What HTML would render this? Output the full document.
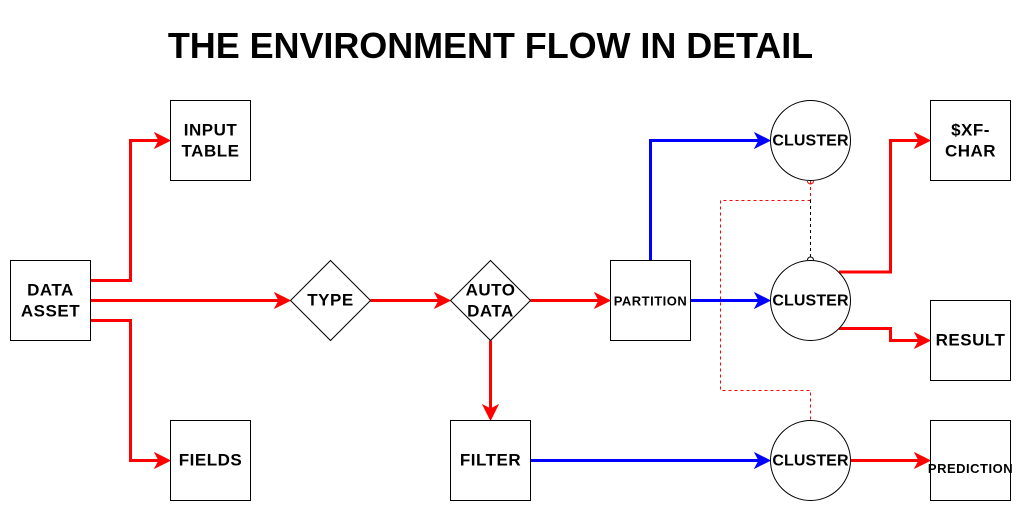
<!DOCTYPE html>
<html><head><meta charset="utf-8"><style>
html,body{margin:0;padding:0;background:#fff;width:1024px;height:511px;overflow:hidden}
svg{display:block}
text{font-family:"Liberation Sans",sans-serif;font-weight:bold;font-size:17px;text-anchor:middle;fill:#000;letter-spacing:.5px}
text.c{font-size:16px;letter-spacing:.1px}
text.s{font-size:13px;letter-spacing:.5px}
.n{fill:#fff;stroke:#000;stroke-width:1}
.r{fill:none;stroke:#f00;stroke-width:3}
.b{fill:none;stroke:#00f;stroke-width:3}
.rh{fill:#f00;stroke:#f00;stroke-width:1;stroke-miterlimit:10}
.bh{fill:#00f;stroke:#00f;stroke-width:1;stroke-miterlimit:10}
</style></head><body>
<svg width="1024" height="511" viewBox="0 0 1024 511" xmlns="http://www.w3.org/2000/svg">
<text x="490.5" y="58" style="font-size:36px;letter-spacing:-.07px">THE ENVIRONMENT FLOW IN DETAIL</text>

<!-- dashed -->
<path d="M810.5 200.5H720.5V390.5H810.5V420" fill="none" stroke="#f00" stroke-dasharray="3 3"/>
<path d="M810.5 181V200" fill="none" stroke="#f00" stroke-dasharray="3 3"/>
<path d="M810.5 200V257" fill="none" stroke="#000" stroke-dasharray="3 3"/>
<path d="M807.5 181a3 3 0 0 0 6 0" fill="none" stroke="#f00"/>
<path d="M807.5 260a3 3 0 0 1 6 0" fill="none" stroke="#000"/>

<!-- red edges -->
<path class="r" d="M90.5 280.5H130.5V140.5H160"/>
<path class="rh" d="M170 140.5L155 148L159 140.5L155 133Z"/>
<path class="r" d="M90.5 300.5H280"/>
<path class="rh" d="M290 300.5L275 308L279 300.5L275 293Z"/>
<path class="r" d="M90.5 320.5H130.5V460.5H160"/>
<path class="rh" d="M170 460.5L155 468L159 460.5L155 453Z"/>
<path class="r" d="M370.5 300.5H440"/>
<path class="rh" d="M450 300.5L435 308L439 300.5L435 293Z"/>
<path class="r" d="M530.5 300.5H600"/>
<path class="rh" d="M610 300.5L595 308L599 300.5L595 293Z"/>
<path class="r" d="M490.5 340.5V410"/>
<path class="rh" d="M490.5 420L483 405L490.5 409L498 405Z"/>
<path class="r" d="M839 272H890.5V140.5H920"/>
<path class="rh" d="M930 140.5L915 148L919 140.5L915 133Z"/>
<path class="r" d="M839 328.5H890.5V340.5H920"/>
<path class="rh" d="M930 340.5L915 348L919 340.5L915 333Z"/>
<path class="r" d="M850.5 460.5H920"/>
<path class="rh" d="M930 460.5L915 468L919 460.5L915 453Z"/>

<!-- blue edges -->
<path class="b" d="M650.5 260.5V140.5H760"/>
<path class="bh" d="M770 140.5L755 148L759 140.5L755 133Z"/>
<path class="b" d="M690.5 300.5H760"/>
<path class="bh" d="M770 300.5L755 308L759 300.5L755 293Z"/>
<path class="b" d="M530.5 460.5H760"/>
<path class="bh" d="M770 460.5L755 468L759 460.5L755 453Z"/>

<!-- nodes -->
<rect class="n" x="10.5" y="260.5" width="80" height="80"/>
<rect class="n" x="170.5" y="100.5" width="80" height="80"/>
<rect class="n" x="170.5" y="420.5" width="80" height="80"/>
<path class="n" d="M330.5 260.5L370.5 300.5L330.5 340.5L290.5 300.5Z"/>
<path class="n" d="M490.5 260.5L530.5 300.5L490.5 340.5L450.5 300.5Z"/>
<rect class="n" x="450.5" y="420.5" width="80" height="80"/>
<rect class="n" x="610.5" y="260.5" width="80" height="80"/>
<circle class="n" cx="810.5" cy="140.5" r="40"/>
<circle class="n" cx="810.5" cy="300.5" r="40"/>
<circle class="n" cx="810.5" cy="460.5" r="40"/>
<rect class="n" x="930.5" y="100.5" width="80" height="80"/>
<rect class="n" x="930.5" y="300.5" width="80" height="80"/>
<rect class="n" x="930.5" y="420.5" width="80" height="80"/>

<!-- labels -->
<text x="50.5" y="295.5">DATA</text>
<text x="50.5" y="316.5">ASSET</text>
<text x="210.5" y="135.5">INPUT</text>
<text x="210.5" y="156.5">TABLE</text>
<text x="210.5" y="465.5">FIELDS</text>
<text x="330.5" y="305.5">TYPE</text>
<text x="490.5" y="295.5">AUTO</text>
<text x="490.5" y="316.5">DATA</text>
<text x="490.5" y="465.5">FILTER</text>
<text class="s" x="650.5" y="305.5">PARTITION</text>
<text class="c" x="810.5" y="145.5">CLUSTER</text>
<text class="c" x="810.5" y="305.5">CLUSTER</text>
<text class="c" x="810.5" y="465.5">CLUSTER</text>
<text x="970.5" y="135.5">$XF-</text>
<text x="970.5" y="156.5">CHAR</text>
<text x="970.5" y="345.5">RESULT</text>
<text class="s" x="970.5" y="473">PREDICTION</text>
</svg>
</body></html>
